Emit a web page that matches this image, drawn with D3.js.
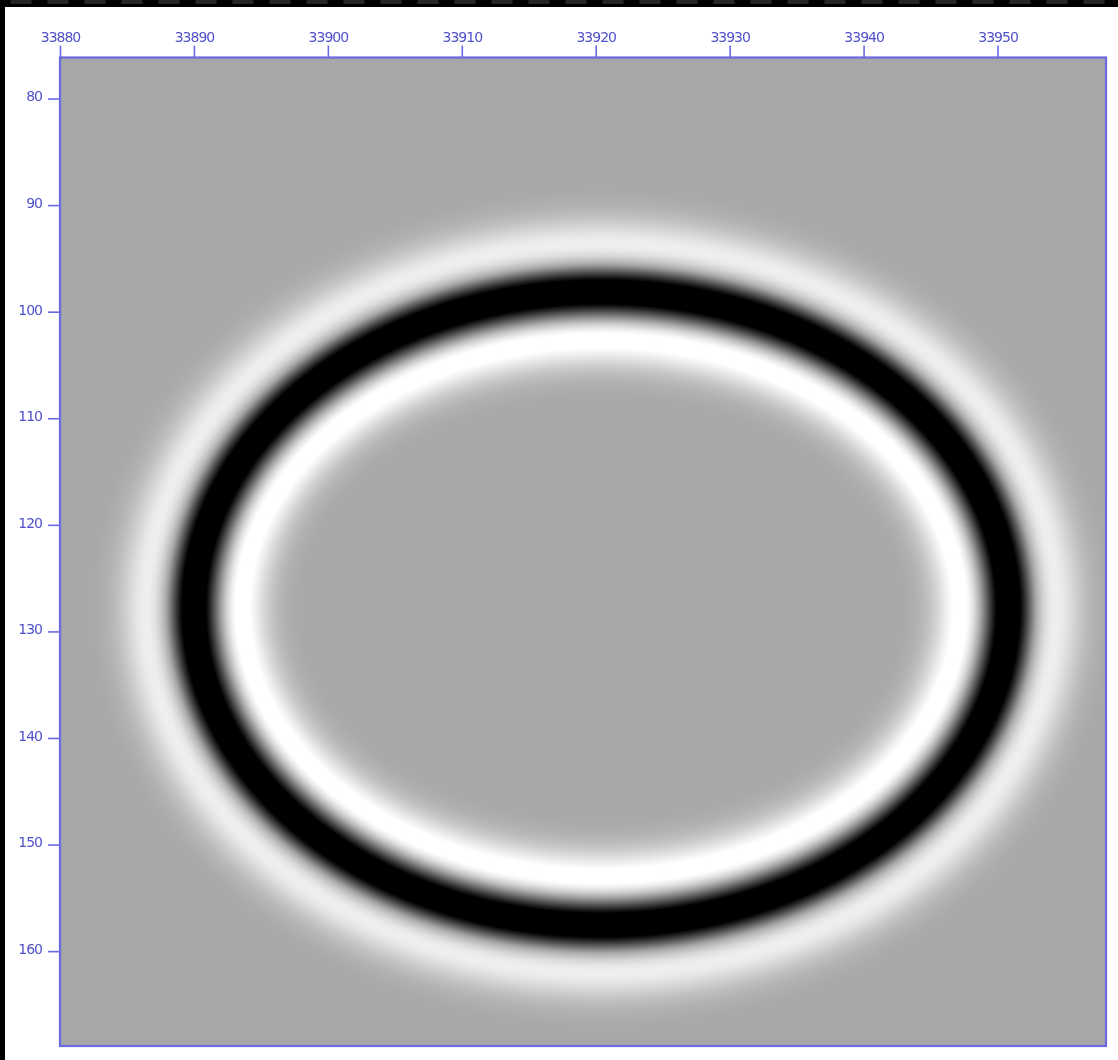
<!DOCTYPE html>
<html>
<head>
<meta charset="utf-8">
<script src="https://cdn.jsdelivr.net/npm/d3@7/dist/d3.min.js"></script>
<style>
  html, body { margin: 0; padding: 0; background: #000; }
  #wrap { position: relative; width: 1118px; height: 1060px; overflow: hidden; }
  #wrap svg, #wrap canvas { position: absolute; left: 0; top: 0; }
</style>
</head>
<body>
<div id="wrap"></div>
<script>
// ---- data ----
const xDomain = [33880, 33958.1];
const yDomain = [76.15, 168.9];
const xTicks = [33880, 33890, 33900, 33910, 33920, 33930, 33940, 33950];
const yTicks = [80, 90, 100, 110, 120, 130, 140, 150, 160];
const ringCenter = [33920.4, 127.8];      // data units (x, y)
const ringSemiAxes = [30.4, 29.7];        // data units (x, y)
const waveletLobe = [3.6];                // distance from trough to side lobe, x units
const lobeGain = [0.97, 0.72];            // inner lobe, outer lobe
const grayLevels = [167, 222];            // zero level, contrast

// ---- layout ----
const W = 1118, H = 1060;
const plot = { left: 60, top: 57.5, right: 1106, bottom: 1046 };

const x = d3.scaleLinear().domain(xDomain).range([plot.left, plot.right]);
const y = d3.scaleLinear().domain(yDomain).range([plot.top, plot.bottom]);
const gray = d3.scaleLinear().domain([-1, 0, 1])
  .range([grayLevels[0] - grayLevels[1], grayLevels[0], grayLevels[0] + grayLevels[1]]);

const wrap = d3.select("#wrap");

// background svg (panel)
const bg = wrap.append("svg").attr("width", W).attr("height", H);
bg.append("rect").attr("width", W).attr("height", H).attr("fill", "#000");
bg.append("g").selectAll("rect").data(d3.range(0, W, 37)).join("rect")
  .attr("x", d => d + 10).attr("y", 0).attr("width", 22).attr("height", 4)
  .attr("rx", 2).attr("fill", "#262626");
bg.append("rect").attr("x", 5).attr("y", 7).attr("width", W - 5).attr("height", H - 7).attr("fill", "#fff");

// field canvas
const pw = Math.round(plot.right - plot.left), ph = Math.round(plot.bottom - plot.top);
const canvas = wrap.append("canvas")
  .attr("width", pw).attr("height", ph)
  .style("left", plot.left + "px").style("top", plot.top + "px");
const ctx = canvas.node().getContext("2d");
const img = ctx.createImageData(pw, ph);

// work in pixel space via the scales
const cxp = x(ringCenter[0]), cyp = y(ringCenter[1]);
const ap = x(ringCenter[0] + ringSemiAxes[0]) - cxp;
const bp = y(ringCenter[1] + ringSemiAxes[1]) - cyp;
const Lp = x(xDomain[0] + waveletLobe[0]) - x(xDomain[0]);

function ricker(d) {
  const u = 1.5 * (d / Lp) * (d / Lp);
  return (1 - 2 * u) * Math.exp(-u);
}

for (let j = 0; j < ph; j++) {
  const py = plot.top + j + 0.5;
  const Y = y(y.invert(py)) - cyp;
  for (let i = 0; i < pw; i++) {
    const px = plot.left + i + 0.5;
    const X = x(x.invert(px)) - cxp;
    const rho = Math.sqrt((X / ap) ** 2 + (Y / bp) ** 2);
    const gx = X / (ap * ap), gy = Y / (bp * bp);
    const g = Math.sqrt(gx * gx + gy * gy) / Math.max(rho, 1e-6);
    const d = (rho - 1) / Math.max(g, 1e-9);  // approx signed distance in px
    let v = -ricker(d);
    if (v > 0) v *= (d < 0 ? lobeGain[0] : lobeGain[1]);
    const c = Math.max(0, Math.min(255, gray(v)));
    const k = (j * pw + i) * 4;
    img.data[k] = c; img.data[k + 1] = c; img.data[k + 2] = c; img.data[k + 3] = 255;
  }
}
ctx.putImageData(img, 0, 0);

// axes overlay
const svg = wrap.append("svg").attr("width", W).attr("height", H);
const axisColor = "#6a6ae0";
const textColor = "#5050cc";

const gxA = svg.append("g").attr("transform", `translate(0,${plot.top})`)
  .call(d3.axisTop(x).tickValues(xTicks).tickSize(12).tickPadding(4).tickFormat(d3.format("d")));
const gyA = svg.append("g").attr("transform", `translate(${plot.left},0)`)
  .call(d3.axisLeft(y).tickValues(yTicks).tickSize(12).tickPadding(6).tickFormat(d3.format("d")));

[gxA, gyA].forEach(g => {
  g.select(".domain").remove();
  g.selectAll(".tick line").attr("stroke", axisColor).attr("stroke-width", 1.6);
  g.selectAll(".tick text").attr("fill", textColor)
    .style("font-family", "DejaVu Sans, Verdana, sans-serif")
    .style("font-size", "14px").style("letter-spacing", "-1px");
});
gyA.selectAll(".tick text").attr("dy", "0.17em");

svg.append("rect")
  .attr("x", plot.left).attr("y", plot.top)
  .attr("width", plot.right - plot.left).attr("height", plot.bottom - plot.top)
  .attr("fill", "none").attr("stroke", axisColor).attr("stroke-width", 2.2);
</script>
</body>
</html>
